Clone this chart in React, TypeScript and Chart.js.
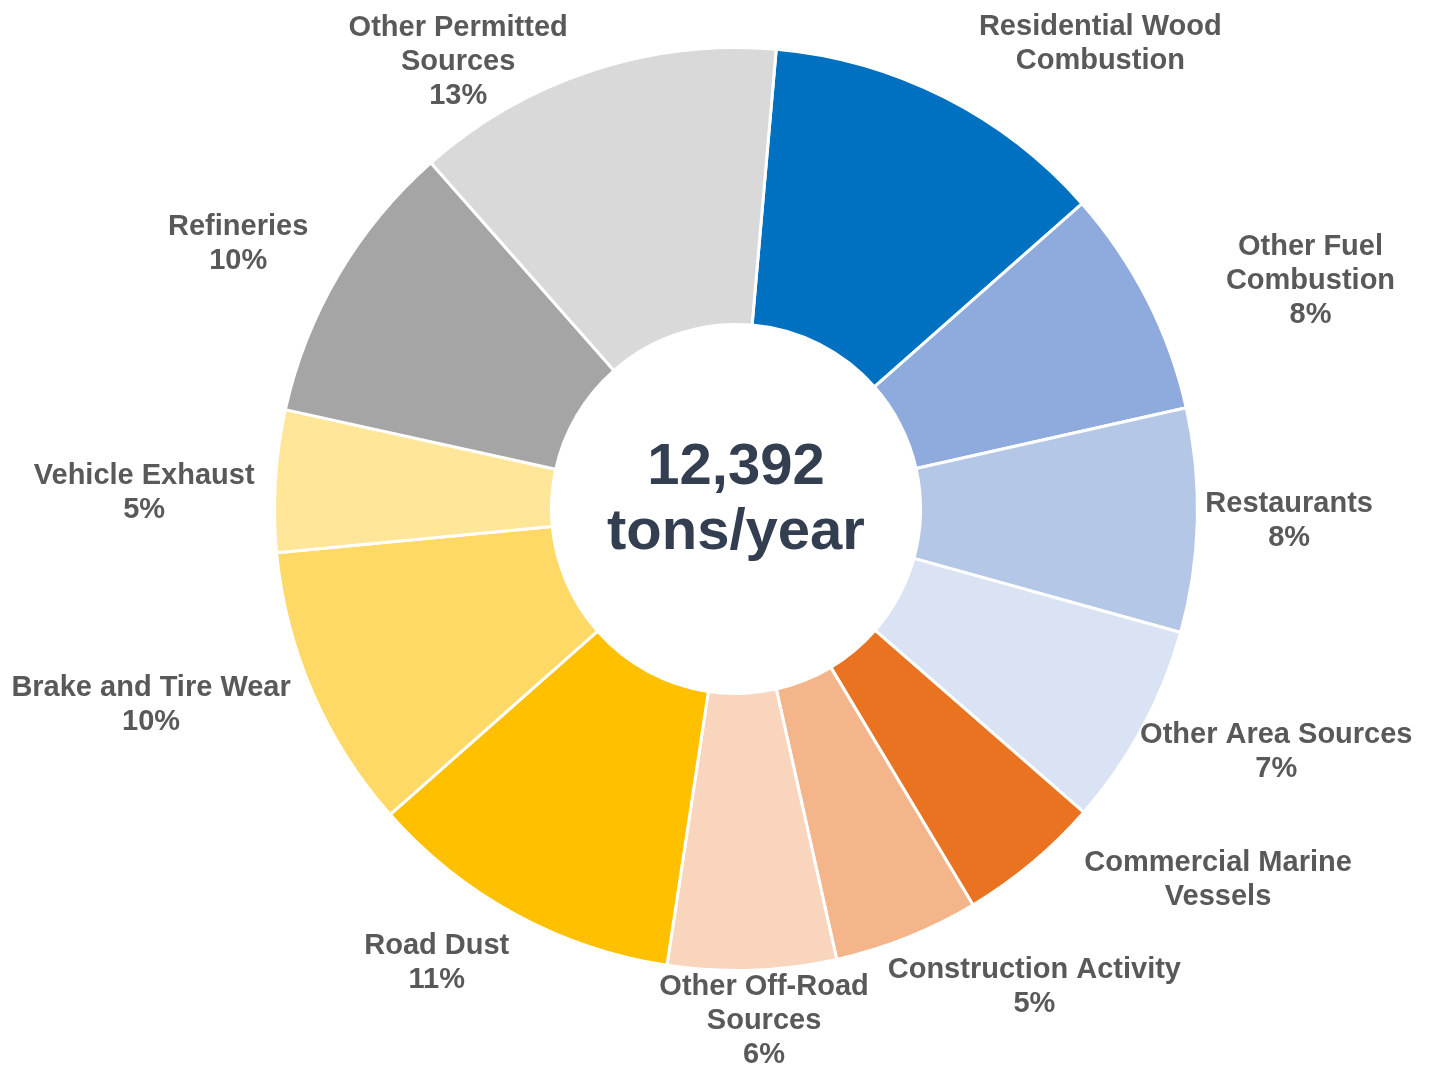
import React, { useEffect, useRef } from "react";
import { Chart, registerables } from "chart.js";

Chart.register(...registerables);

// ---- data ----
const categories = [
  "Residential Wood\nCombustion",
  "Other Fuel\nCombustion",
  "Restaurants",
  "Other Area Sources",
  "Commercial Marine\nVessels",
  "Construction Activity",
  "Other Off-Road\nSources",
  "Road Dust",
  "Brake and Tire Wear",
  "Vehicle Exhaust",
  "Refineries",
  "Other Permitted\nSources",
];
const tonsPerYear = [1500, 990, 970, 880, 620, 630, 730, 1375, 1240, 615, 1245, 1597];
const showPercent = [false, true, true, true, false, true, true, true, true, true, true, true];
const centerLines = ["12,392", "tons/year"];

// ---- styles / layout ----
const sliceColors = [
  "#0070C0", "#8FAADC", "#B4C7E7", "#DAE3F3",
  "#EA7321", "#F4B58A", "#F9D5BE",
  "#FFC000", "#FFD966", "#FFE699",
  "#A5A5A5", "#D9D9D9",
];
// fine nudges (px) for each label block relative to its outside-end position
const labelNudge: [number, number][] = [
  [98, -16], [81, 9], [0, -1], [7, 4], [95, -15], [70, 10],
  [8, -8], [-40, 12], [-26, -4], [-13, 15], [-33, -9], [-97, 47],
];
const LABEL_FONT = "bold 29px 'Liberation Sans', Arial, sans-serif";
const LABEL_COLOR = "#595959";
const LINE_H = 34;
const GAP = 8;

const labelPlugin = {
  id: "outsideLabels",
  afterDraw(chart: any) {
    const ctx = chart.ctx;
    const meta = chart.getDatasetMeta(0);
    const data = chart.data.datasets[0].data as number[];
    const total = data.reduce((a, b) => a + b, 0);
    ctx.save();
    ctx.font = LABEL_FONT;
    ctx.fillStyle = LABEL_COLOR;
    ctx.textAlign = "center";
    ctx.textBaseline = "middle";
    meta.data.forEach((arc: any, i: number) => {
      const p = arc.getProps(["x", "y", "startAngle", "endAngle", "outerRadius"], true);
      const mid = (p.startAngle + p.endAngle) / 2;
      const ux = Math.cos(mid);
      const uy = Math.sin(mid);
      const lines = String(chart.data.labels[i]).split("\n");
      if (showPercent[i]) lines.push(Math.round((data[i] / total) * 100) + "%");
      const w = Math.max(...lines.map((l: string) => ctx.measureText(l).width));
      const h = lines.length * LINE_H;
      const ax = p.x + ux * (p.outerRadius + GAP);
      const ay = p.y + uy * (p.outerRadius + GAP);
      const cx = ax + (ux * w) / 2 + labelNudge[i][0];
      const cy = ay + (uy * h) / 2 + labelNudge[i][1];
      lines.forEach((l: string, k: number) => {
        ctx.fillText(l, cx, cy + (k - (lines.length - 1) / 2) * LINE_H);
      });
    });
    // center text
    const a0 = meta.data[0];
    ctx.font = "bold 58px 'Liberation Sans', Arial, sans-serif";
    ctx.fillStyle = "#333F50";
    ctx.textBaseline = "alphabetic";
    ctx.fillText(centerLines[0], a0.x, a0.y - 25);
    ctx.fillText(centerLines[1], a0.x, a0.y + 40);
    ctx.restore();
  },
};

export default function App() {
  const ref = useRef<HTMLCanvasElement | null>(null);
  useEffect(() => {
    if (!ref.current) return;
    const chart = new Chart(ref.current, {
      type: "doughnut",
      data: {
        labels: categories,
        datasets: [
          {
            data: tonsPerYear,
            backgroundColor: sliceColors,
            borderColor: "#ffffff",
            borderWidth: 3,
          },
        ],
      },
      options: {
        responsive: false,
        animation: false,
        rotation: 5,
        cutout: "40%",
        layout: { padding: { left: 273, top: 46, right: 235, bottom: 101 } },
        plugins: { legend: { display: false }, tooltip: { enabled: false } },
      },
      plugins: [labelPlugin],
    });
    return () => chart.destroy();
  }, []);
  return (
    <div style={{ position: "fixed", left: 0, top: 0, width: 1434, height: 1073, background: "#fff" }}>
      <canvas ref={ref} width={1434} height={1073} />
    </div>
  );
}
